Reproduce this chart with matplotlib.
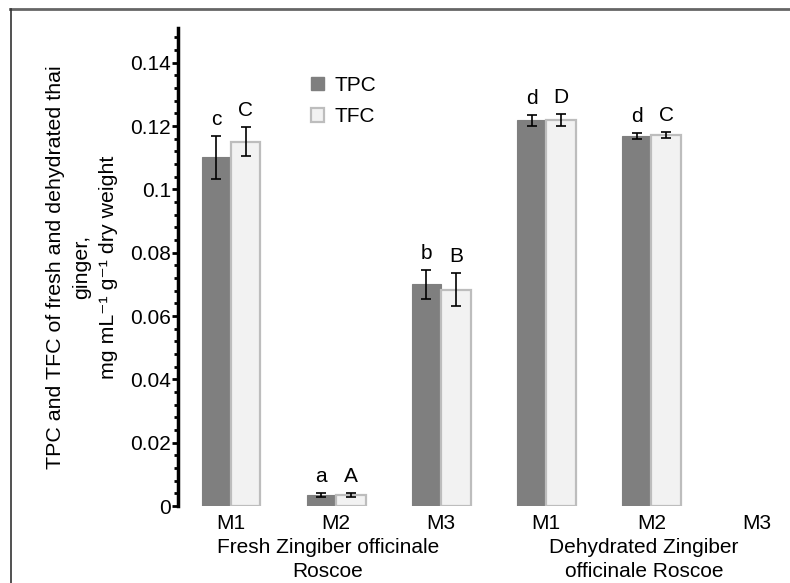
import numpy as np
import matplotlib
matplotlib.use("Agg")
import matplotlib.pyplot as plt
from matplotlib.patches import Patch
from matplotlib.lines import Line2D
from matplotlib.ticker import MultipleLocator, FuncFormatter

plt.rcParams['font.family'] = ['Liberation Sans', 'DejaVu Sans']

# data
categories = ['M1', 'M2', 'M3', 'M1', 'M2', 'M3']
tpc = [0.1101, 0.0035, 0.0700, 0.1218, 0.1168, np.nan]
tpc_err = [0.0068, 0.0006, 0.0045, 0.0017, 0.0010, np.nan]
tfc = [0.1151, 0.0036, 0.0683, 0.1219, 0.1173, np.nan]
tfc_err = [0.0045, 0.0006, 0.0052, 0.0018, 0.0010, np.nan]
tpc_letters = ['c', 'a', 'b', 'd', 'd', '']
tfc_letters = ['C', 'A', 'B', 'D', 'C', '']
groups = ['Fresh Zingiber officinale\nRoscoe', 'Dehydrated Zingiber\nofficinale Roscoe']
group_pos = [0.92, 3.93]

dark = '#7f7f7f'
light = '#f2f2f2'
edge = '#bdbdbd'

fig = plt.figure(figsize=(7.9, 5.83), dpi=100)
ax = fig.add_axes([178/790, 1 - 506/583, 1 - 178/790, (506 - 28)/583])

x = np.arange(len(categories))
w = 0.28
ax.bar(x - w/2, tpc, w, color=dark, edgecolor=dark, linewidth=0.8, zorder=2)
ax.bar(x + w/2, tfc, w, color=light, edgecolor=edge, linewidth=1.6, zorder=2)
ax.errorbar(x - w/2, tpc, yerr=tpc_err, fmt='none', ecolor='black', elinewidth=1.2, capsize=3.5, capthick=1.2, zorder=3)
ax.errorbar(x + w/2, tfc, yerr=tfc_err, fmt='none', ecolor='black', elinewidth=1.2, capsize=3.5, capthick=1.2, zorder=3)

for i in range(len(categories)):
    if tpc_letters[i]:
        ax.text(x[i] - w/2, tpc[i] + tpc_err[i] + 0.0022, tpc_letters[i], ha='center', va='bottom', fontsize=15)
    if tfc_letters[i]:
        ax.text(x[i] + w/2, tfc[i] + tfc_err[i] + 0.0022, tfc_letters[i], ha='center', va='bottom', fontsize=15)

ax.set_xlim(-0.505, 5.32)
ax.set_ylim(0, 0.151)
ax.set_xticks(x)
ax.set_xticklabels(categories, fontsize=15)
ax.tick_params(axis='x', length=0, pad=6)

ax.yaxis.set_major_locator(MultipleLocator(0.02))
ax.yaxis.set_minor_locator(MultipleLocator(0.004))
ax.yaxis.set_major_formatter(FuncFormatter(lambda v, p: '%g' % round(v, 3)))
ax.tick_params(axis='y', which='major', direction='out', length=4, width=2, labelsize=15, pad=1)
ax.tick_params(axis='y', which='minor', direction='out', length=3, width=2)

for s in ['top', 'right', 'bottom']:
    ax.spines[s].set_visible(False)
ax.spines['left'].set_linewidth(2.5)
ax.spines['left'].set_color('black')

ax.set_ylabel('TPC and TFC of fresh and dehydrated thai\nginger,\nmg mL⁻¹ g⁻¹ dry weight',
              fontsize=15.4, linespacing=1.5, labelpad=9)

for gp, g in zip(group_pos, groups):
    ax.text(gp, -0.0101, g, ha='center', va='top', fontsize=15, linespacing=1.35,
            transform=ax.transData, clip_on=False)

handles = [Patch(facecolor=dark, edgecolor=dark), Patch(facecolor=light, edgecolor=edge, linewidth=1.6)]
ax.legend(handles, ['TPC', 'TFC'], loc='upper left', bbox_to_anchor=(0.218, 0.90), frameon=False,
          fontsize=15, handlelength=0.6, handleheight=0.6, handletextpad=0.5, labelspacing=0.6,
          borderpad=0, borderaxespad=0)

# border lines of the panel
fig.add_artist(Line2D([10/790, 1], [1 - 9/583, 1 - 9/583], color='#666666', linewidth=2, transform=fig.transFigure))
fig.add_artist(Line2D([11/790, 11/790], [0, 1 - 9/583], color='#333333', linewidth=1.2, transform=fig.transFigure))

fig.savefig('out.png', dpi=100)
